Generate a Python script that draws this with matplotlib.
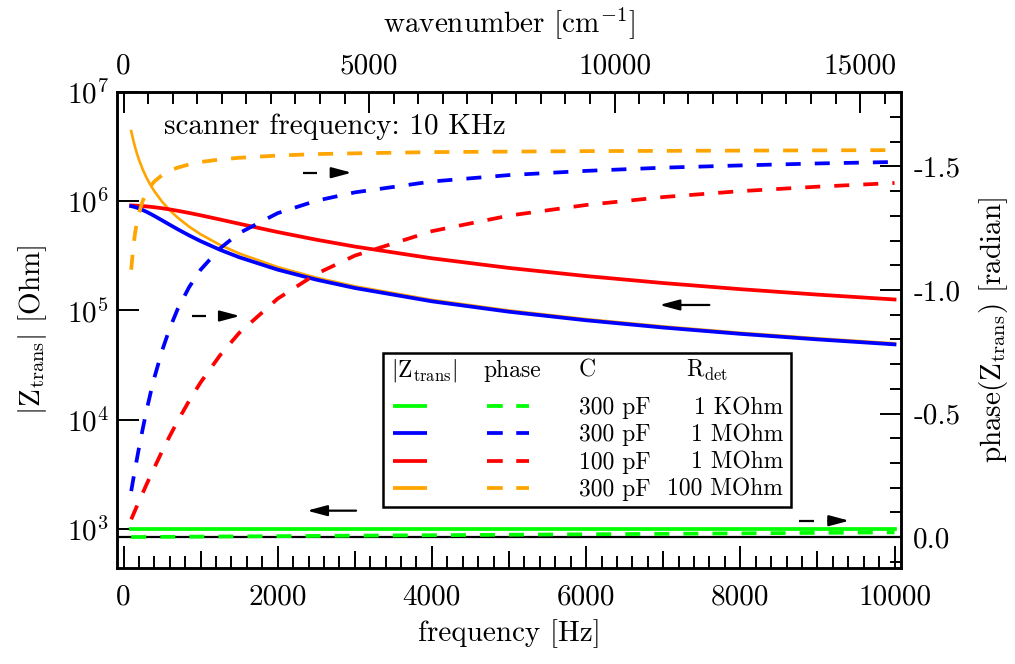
import math
import matplotlib
matplotlib.use("Agg")
import matplotlib.pyplot as plt
from matplotlib.patches import Rectangle
from matplotlib.ticker import MultipleLocator, FixedLocator, FuncFormatter, NullLocator, NullFormatter

plt.rcParams['font.family'] = 'serif'
plt.rcParams['font.serif'] = ['cmr10']
plt.rcParams['mathtext.fontset'] = 'cm'
plt.rcParams['axes.unicode_minus'] = False
plt.rcParams['font.size'] = 21

# frequency grid [Hz]
freq = [100, 125, 150, 175, 200, 250, 300, 350, 400, 500, 600, 700, 850,
        1000, 1250, 1500, 2000, 2500, 3000, 4000, 5000, 6000, 7000, 8000,
        9000, 10000]

# |Z_trans| [Ohm]
z_green = [1000, 1000, 1000, 1000, 1000, 1000, 1000, 1000, 1000, 1000,
           1000, 1000, 1000, 1000, 1000, 1000, 1000, 1000, 1000, 1000,
           1000, 1000, 1000, 1000, 1000, 1000]
z_blue = [904000, 895600, 885500, 874000, 861200, 832700, 801400, 768700,
          735400, 670500, 610500, 556800, 488200, 432200, 360400, 307600,
          236600, 191600, 160700, 121300, 97370, 81290, 69740, 61070,
          54310, 48890]
z_red = [917600, 916300, 914600, 912700, 910500, 905300, 899100, 891900,
         883800, 865300, 844100, 821000, 783900, 745700, 682700, 623900,
         523500, 445600, 385400, 300800, 245400, 206800, 178400, 156800,
         139800, 126100]
z_orange = [4414000, 3681000, 3142000, 2734000, 2416000, 1956000, 1641000,
            1412000, 1239000, 994400, 830100, 712200, 587100, 499300,
            399600, 333100, 249900, 200000, 166600, 125000, 100000, 83330,
            71430, 62500, 55560, 50000]

# phase(Z_trans) [radian]
ph_green = [-0.0002, -0.0002, -0.0003, -0.0003, -0.0004, -0.0005, -0.0006,
            -0.0007, -0.0008, -0.001, -0.0011, -0.0013, -0.0016, -0.0019,
            -0.0024, -0.0029, -0.0038, -0.0048, -0.0057, -0.0076, -0.0095,
            -0.0114, -0.0133, -0.0152, -0.0171, -0.019]
ph_blue = [-0.186, -0.231, -0.275, -0.318, -0.360, -0.439, -0.514, -0.582,
           -0.645, -0.754, -0.845, -0.921, -1.011, -1.082, -1.168, -1.230,
           -1.311, -1.361, -1.395, -1.439, -1.465, -1.482, -1.495, -1.504,
           -1.512, -1.518]
ph_red = [-0.072, -0.090, -0.108, -0.126, -0.144, -0.179, -0.214, -0.248,
          -0.281, -0.347, -0.409, -0.468, -0.551, -0.626, -0.735, -0.826,
          -0.965, -1.065, -1.139, -1.238, -1.301, -1.344, -1.376, -1.400,
          -1.418, -1.433]
ph_orange = [-1.082, -1.169, -1.230, -1.276, -1.311, -1.361, -1.395, -1.420,
             -1.439, -1.465, -1.482, -1.495, -1.508, -1.518, -1.528, -1.535,
             -1.544, -1.550, -1.553, -1.558, -1.560, -1.562, -1.563, -1.564,
             -1.565, -1.566]

caps = ['300 pF', '300 pF', '100 pF', '300 pF']
rdets = ['1 KOhm', '1 MOhm', '1 MOhm', '100 MOhm']
colors = ['#00ff00', '#0000ff', '#ff0000', '#ffa500']

CM_PER_HZ = 1.57  # wavenumber per Hz of scanner frequency

LW = 2.7
DASH = (4.0, 3.75)
LEG_FS = 17

fig = plt.figure(figsize=(10.15, 6.64), dpi=100)
ax = fig.add_axes([0.1156, 0.1446, 0.7718, 0.7164])
ax2 = ax.twinx()

# magnitudes, left log axis
ax.plot(freq, z_orange, color=colors[3], lw=1.9)
ax.plot(freq, z_green, color=colors[0], lw=LW)
ax.plot(freq, z_red, color=colors[2], lw=LW)
ax.plot(freq, z_blue, color=colors[1], lw=LW)

# phases, right axis (inverted)
ax2.axhline(0, color='k', lw=1.6, zorder=1)
for ph, c in zip([ph_green, ph_blue, ph_red, ph_orange], colors):
    ax2.plot(freq, ph, color=c, lw=LW, dashes=DASH, zorder=2)

ax.set_xlim(-80, 10080)
ax.set_yscale('log')
ax.set_ylim(436, 1e7)
ax2.set_ylim(0.125, -1.8)

for sp in ax.spines.values():
    sp.set_linewidth(1.8)
for sp in ax2.spines.values():
    sp.set_linewidth(1.8)

# bottom axis
ax.xaxis.set_major_locator(MultipleLocator(2000))
ax.xaxis.set_minor_locator(MultipleLocator(200))
ax.tick_params(axis='x', which='both', direction='in', top=False, bottom=True, width=1.4)
ax.tick_params(axis='x', which='major', length=15.5, pad=12)
ax.tick_params(axis='x', which='minor', length=8.4)
ax.set_xlabel('frequency [Hz]', labelpad=6)

# medium ticks every 1000 Hz on the bottom
mid = ax.secondary_xaxis('bottom')
mid.spines['bottom'].set_visible(False)
mid.xaxis.set_major_locator(FixedLocator([1000, 3000, 5000, 7000, 9000]))
mid.xaxis.set_major_formatter(NullFormatter())
mid.tick_params(axis='x', direction='in', length=12, width=1.4)

# left axis
ax.yaxis.set_major_locator(FixedLocator([1e3, 1e4, 1e5, 1e6, 1e7]))
ax.yaxis.set_minor_locator(NullLocator())
ax.yaxis.set_major_formatter(FuncFormatter(lambda v, p: r'$10^{%d}$' % round(math.log10(v))))
ax.tick_params(axis='y', which='major', direction='in', length=15.6, width=1.4, pad=6, right=False)
ax.set_ylabel(r'$|\mathrm{Z}_{\mathrm{trans}}|$ [Ohm]', labelpad=13)

# right axis
ax2.yaxis.set_major_locator(MultipleLocator(0.5))
ax2.yaxis.set_minor_locator(MultipleLocator(0.1))
ax2.yaxis.set_major_formatter(FuncFormatter(lambda v, p: '%.1f' % (0.0 if abs(v) < 1e-9 else v)))
ax2.tick_params(axis='y', which='both', direction='in', width=1.4)
ax2.tick_params(axis='y', which='major', length=15.2, pad=9)
ax2.tick_params(axis='y', which='minor', length=8.0)
ax2.set_ylabel(r'phase(Z$_{\mathrm{trans}}$) [radian]', labelpad=12)

# top axis: wavenumber
top = ax.secondary_xaxis('top', functions=(lambda f: f * CM_PER_HZ, lambda w: w / CM_PER_HZ))
top.xaxis.set_major_locator(FixedLocator([0, 5000, 10000, 15000]))
top.xaxis.set_minor_locator(MultipleLocator(500))
top.tick_params(axis='x', which='both', direction='in', width=1.4)
top.tick_params(axis='x', which='major', length=15.2, pad=9.5)
top.tick_params(axis='x', which='minor', length=8.6)
top.set_xlabel(r'wavenumber [cm$^{\mathrm{-1}}$]', labelpad=15)

ax2.text(0.0598, 0.9123, 'scanner frequency: 10 KHz', transform=ax2.transAxes,
         ha='left', va='baseline')

# direction arrows
def arrow(x0, x1, y, dashed):
    kw = dict(xycoords='axes fraction', textcoords='axes fraction',
              arrowprops=dict(arrowstyle='-|>,head_length=1.2,head_width=0.32',
                              color='k', lw=1.6, shrinkA=0, shrinkB=0,
                              mutation_scale=10))
    if dashed:
        ax2.plot([x0, x0 + 0.0188], [y, y], color='k', lw=1.6,
                 transform=ax2.transAxes, solid_capstyle='butt')
        ax2.annotate('', xy=(x1, y), xytext=(x0 + 0.037, y), **kw)
    else:
        ax2.annotate('', xy=(x1, y), xytext=(x0, y), **kw)

arrow(0.2367, 0.2992, 0.8310, True)
arrow(0.0950, 0.1566, 0.5297, True)
arrow(0.7557, 0.6919, 0.5529, False)
arrow(0.3047, 0.2421, 0.1205, False)
arrow(0.8706, 0.9344, 0.0994, True)

# table-like legend
ax2.add_patch(Rectangle((0.3395, 0.1276), 0.5201, 0.3244, transform=ax2.transAxes,
                        facecolor='white', edgecolor='k', lw=1.8, zorder=5))
hdr_y = 0.4015
ax2.text(0.3490, hdr_y, r'$|\mathrm{Z}_{\mathrm{trans}}|$', transform=ax2.transAxes,
         va='baseline', fontsize=LEG_FS, zorder=6)
ax2.text(0.4672, hdr_y, 'phase', transform=ax2.transAxes, va='baseline',
         fontsize=LEG_FS, zorder=6)
ax2.text(0.5894, hdr_y, 'C', transform=ax2.transAxes, va='baseline',
         fontsize=LEG_FS, zorder=6)
ax2.text(0.7259, hdr_y, r'R$_{\mathrm{det}}$', transform=ax2.transAxes, va='baseline',
         fontsize=LEG_FS, zorder=6)
line_y = [0.3405, 0.2832, 0.2256, 0.1689]
text_y = [0.3237, 0.2664, 0.2088, 0.1514]
for c, cap, rd, ly, ty in zip(colors, caps, rdets, line_y, text_y):
    ax2.plot([0.3524, 0.3956], [ly, ly], color=c, lw=LW, transform=ax2.transAxes,
             zorder=6, solid_capstyle='butt')
    ax2.plot([0.4715, 0.5259], [ly, ly], color=c, lw=LW, dashes=(4.2, 3.6),
             transform=ax2.transAxes, zorder=6, dash_capstyle='butt')
    ax2.text(0.5894, ty, cap, transform=ax2.transAxes, va='baseline',
             fontsize=LEG_FS, zorder=6)
    ax2.text(0.8498, ty, rd, transform=ax2.transAxes, va='baseline', ha='right',
             fontsize=LEG_FS, zorder=6)

fig.savefig('out.png', dpi=100)
